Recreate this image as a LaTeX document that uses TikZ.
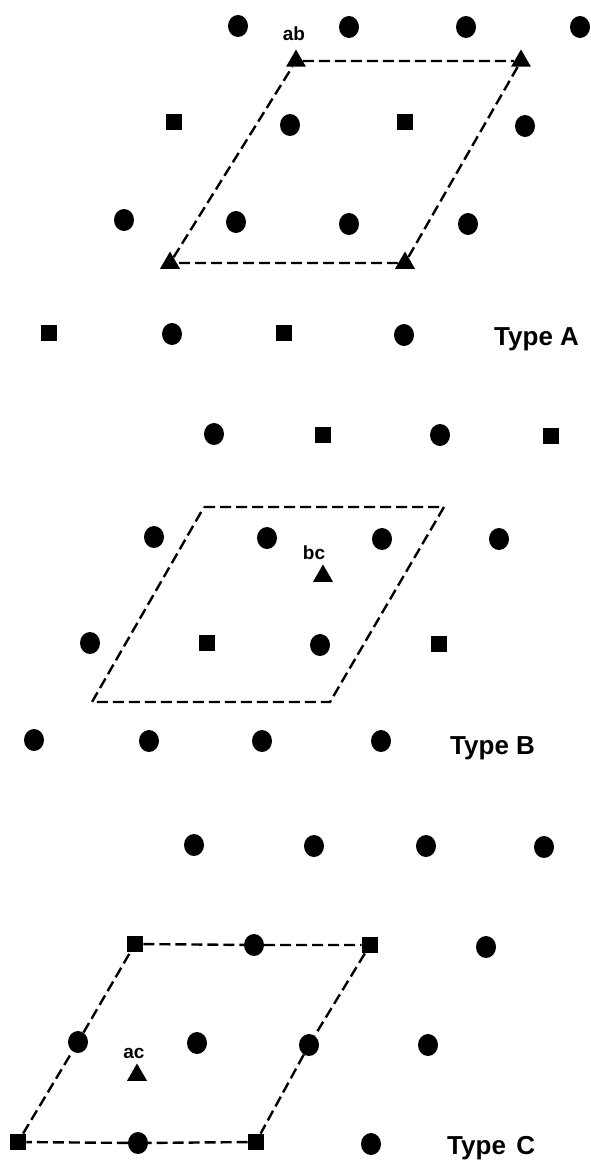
\documentclass[tikz,border=0pt]{standalone}
\usepackage{fontspec}
\setmainfont{Liberation Sans}
\usetikzlibrary{shapes.geometric}
\tikzset{
 dot/.style={ellipse, fill=black, minimum width=20pt, minimum height=22pt, inner sep=0pt},
 sq/.style={rectangle, fill=black, minimum size=16.5pt, inner sep=0pt},
 tri/.style={regular polygon, regular polygon sides=3, fill=black, minimum size=23pt, inner sep=0pt},
 cell/.style={line width=2.4pt, dash pattern=on 11pt off 5pt},
 lbl/.style={font=\bfseries\fontsize{19}{19}\selectfont, inner sep=0pt},
 typelbl/.style={font=\bfseries\fontsize{26}{26}\selectfont, anchor=base west, inner sep=0pt},
}
\begin{document}
\begin{tikzpicture}[x=1pt,y=-1pt]
\useasboundingbox (0,0) rectangle (591,1161);
% ---------------- Type A ----------------
\node[dot] (a11) at (238,26) {};
\node[dot] (a12) at (349,27) {};
\node[dot] (a13) at (466,27) {};
\node[dot] (a14) at (580,27) {};
\node[lbl] (lab) at (294,34) {ab};
\node[tri] (ta1) at (296,61) {};
\node[tri] (ta2) at (521,61) {};
\node[sq]  (a21) at (174,122) {};
\node[dot] (a22) at (290,125) {};
\node[sq]  (a23) at (405,122) {};
\node[dot] (a24) at (525,126) {};
\node[dot] (a31) at (124,220) {};
\node[dot] (a32) at (236,222) {};
\node[dot] (a33) at (349,224) {};
\node[dot] (a34) at (468,224) {};
\node[tri] (ta3) at (405,263) {};
\node[tri] (ta4) at (170,263) {};
\node[sq]  (a41) at (49,333) {};
\node[dot] (a42) at (172,334) {};
\node[sq]  (a43) at (284,333) {};
\node[dot] (a44) at (404,335) {};
\node[typelbl] (typeA) at (494,345) {Type A};
\draw[cell] (ta1) -- (ta2) -- (ta3) -- (ta4) -- (ta1);
% ---------------- Type B ----------------
\node[dot] (b11) at (214,434) {};
\node[sq]  (b12) at (323,435) {};
\node[dot] (b13) at (440,435) {};
\node[sq]  (b14) at (551,436) {};
\coordinate (pb1) at (204,507);
\coordinate (pb2) at (444,507);
\coordinate (pb3) at (330,702);
\coordinate (pb4) at (92,702);
\node[dot] (b21) at (154,537) {};
\node[dot] (b22) at (267,538) {};
\node[dot] (b23) at (382,539) {};
\node[dot] (b24) at (499,539) {};
\node[lbl] (lbc) at (314,553) {bc};
\node[tri] (tb) at (323,576) {};
\node[dot] (b31) at (90,643) {};
\node[sq]  (b32) at (207,643) {};
\node[dot] (b33) at (320,645) {};
\node[sq]  (b34) at (439,644) {};
\node[dot] (b41) at (34,740) {};
\node[dot] (b42) at (149,741) {};
\node[dot] (b43) at (262,741) {};
\node[dot] (b44) at (381,741) {};
\node[typelbl] (typeB) at (450,754) {Type B};
\draw[cell] (pb1) -- (pb2) -- (pb3) -- (pb4) -- cycle;
% ---------------- Type C ----------------
\node[dot] (c11) at (194,845) {};
\node[dot] (c12) at (314,846) {};
\node[dot] (c13) at (426,846) {};
\node[dot] (c14) at (544,847) {};
\node[sq]  (c21) at (135,944) {};
\node[dot] (c22) at (254,945) {};
\node[sq]  (c23) at (370,945) {};
\node[dot] (c24) at (486,947) {};
\node[dot] (c31) at (78,1042) {};
\node[dot] (c32) at (197,1043) {};
\node[dot] (c33) at (309,1045) {};
\node[dot] (c34) at (428,1045) {};
\node[lbl] (lac) at (134,1053) {ac};
\node[tri] (tc) at (137,1075) {};
\node[sq]  (c41) at (18,1142) {};
\node[dot] (c42) at (138,1143) {};
\node[sq]  (c43) at (256,1142) {};
\node[dot] (c44) at (371,1144) {};
\node[typelbl] (typeC) at (447,1154) {Type\hspace{0.4em}C};
\draw[cell] (c21) -- (c22) -- (c23);
\draw[cell] (c23) -- (c33) -- (c43);
\draw[cell] (c43) -- (c42) -- (c41);
\draw[cell] (c41) -- (c31) -- (c21);
\end{tikzpicture}
\end{document}
